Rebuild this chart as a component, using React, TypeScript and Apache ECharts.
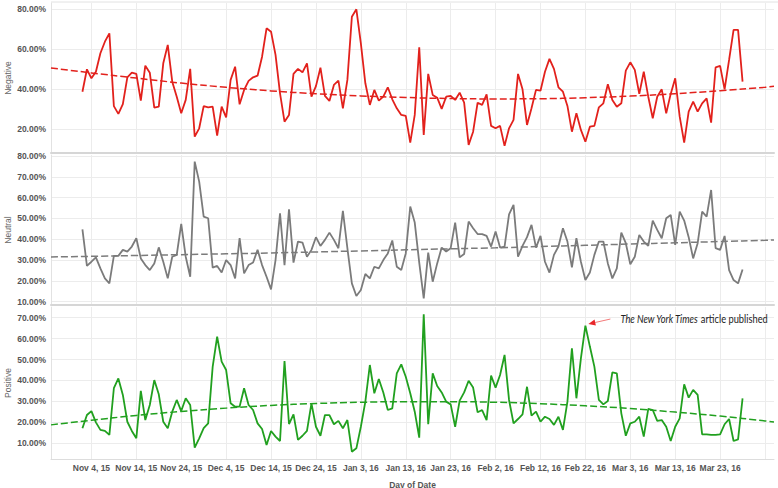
import React, { useEffect, useRef } from "react";
import * as echarts from "echarts";

// ---- categories: every day from Oct 26, 2015 to Apr 4, 2016 ----
const MONTHS = ["Jan", "Feb", "Mar", "Apr", "May", "Jun", "Jul", "Aug", "Sep", "Oct", "Nov", "Dec"];
const DAY_COUNT = 162;
const categories: string[] = [];
for (let i = 0; i < DAY_COUNT; i++) {
  const d = new Date(2015, 9, 26 + i);
  categories.push(`${MONTHS[d.getMonth()]} ${d.getDate()}, ${String(d.getFullYear()).slice(2)}`);
}
const DATA_START = "Nov 2, 15";
const ARTICLE_DATE = "Feb 22, 16";
const ANNOTATION = ["The New York Times", " article published"];

// ---- daily values (Nov 2, 2015 .. Mar 28, 2016), percent ----
const negativeValues = [
  38.8, 50.0, 45.5, 48.8, 58.0, 63.8, 68.0, 31.6, 27.7, 32.6,
  46.0, 48.3, 47.7, 34.3, 51.8, 48.3, 30.8, 31.3, 53.0, 62.2,
  43.8, 36.3, 28.0, 34.7, 50.2, 16.3, 20.5, 31.6, 31.0, 31.3,
  16.8, 31.3, 26.0, 44.7, 51.3, 32.5, 39.7, 44.2, 46.0, 46.8,
  56.3, 70.5, 68.8, 57.2, 38.0, 23.8, 27.2, 47.7, 50.2, 48.5,
  53.0, 36.3, 41.6, 50.8, 36.7, 34.2, 42.2, 44.3, 30.5, 44.7,
  76.3, 80.0, 63.0, 43.0, 32.2, 39.7, 34.3, 36.3, 41.0, 35.0,
  30.5, 27.2, 26.7, 13.3, 27.2, 61.0, 17.2, 47.7, 37.2, 35.8,
  30.2, 36.3, 36.7, 34.7, 38.3, 33.3, 12.2, 18.8, 33.3, 32.2,
  37.5, 21.7, 20.5, 21.7, 11.7, 20.5, 24.7, 47.7, 40.0, 22.2,
  30.5, 39.7, 39.3, 48.8, 55.2, 50.2, 41.0, 38.8, 31.7, 18.8,
  28.0, 19.7, 13.8, 21.3, 21.7, 31.0, 33.0, 42.5, 34.7, 31.3,
  33.0, 49.3, 53.5, 49.7, 37.7, 48.8, 36.3, 25.5, 36.3, 40.0,
  28.0, 37.7, 45.5, 26.3, 13.3, 28.8, 33.8, 28.8, 33.0, 35.5,
  23.3, 51.0, 51.7, 40.0, 54.7, 69.7, 69.7, 43.8,
];
const neutralValues = [
  44.8, 27.2, 29.2, 31.3, 26.0, 21.2, 18.8, 32.0, 32.0, 34.9,
  34.1, 36.5, 40.5, 30.8, 27.6, 25.2, 28.4, 36.1, 29.2, 21.2,
  31.6, 32.5, 47.4, 31.6, 22.0, 77.3, 67.7, 50.9, 50.1, 26.4,
  27.2, 24.0, 30.0, 27.6, 21.2, 40.5, 23.6, 27.6, 28.8, 34.9,
  27.6, 22.0, 15.9, 30.0, 52.5, 27.6, 54.4, 28.8, 38.9, 38.4,
  31.6, 34.9, 41.0, 36.8, 39.7, 43.2, 39.7, 35.7, 53.6, 35.7,
  18.8, 12.7, 15.6, 23.3, 21.2, 26.8, 26.0, 30.0, 33.2, 39.4,
  26.8, 25.2, 33.2, 55.7, 48.0, 28.8, 11.6, 33.6, 19.6, 28.4,
  36.0, 34.1, 35.7, 48.0, 31.3, 32.9, 48.5, 45.3, 42.5, 42.5,
  41.6, 36.5, 43.7, 36.0, 36.5, 52.0, 56.5, 31.6, 36.8, 41.0,
  46.9, 36.0, 41.6, 29.2, 24.0, 32.5, 36.5, 45.3, 38.9, 26.5,
  40.5, 29.2, 20.4, 24.0, 32.5, 38.9, 38.9, 28.4, 21.2, 26.0,
  43.2, 38.1, 28.0, 31.6, 42.1, 38.9, 36.8, 49.0, 44.5, 40.5,
  50.1, 51.7, 37.3, 53.3, 49.0, 41.0, 30.8, 38.1, 53.3, 50.9,
  63.7, 35.7, 34.9, 41.6, 25.2, 20.4, 18.8, 25.5,
];
const positiveValues = [
  17.2, 23.5, 25.4, 20.0, 16.4, 15.9, 14.0, 36.3, 41.0, 33.1,
  20.3, 15.9, 12.4, 35.0, 21.1, 28.3, 40.2, 33.4, 20.3, 17.2,
  25.1, 30.7, 25.4, 31.5, 28.3, 7.9, 12.4, 17.2, 19.5, 46.5,
  60.9, 49.0, 45.0, 29.1, 27.5, 27.5, 36.3, 28.3, 25.9, 19.5,
  16.8, 9.2, 15.9, 13.2, 11.1, 49.3, 19.2, 23.8, 11.6, 13.6,
  15.9, 29.1, 17.9, 13.6, 23.5, 23.5, 19.1, 20.7, 17.2, 21.1,
  6.0, 7.6, 17.9, 29.9, 47.4, 33.9, 40.7, 34.3, 25.9, 26.7,
  43.4, 47.7, 41.8, 33.9, 25.1, 12.7, 71.6, 19.1, 43.4, 37.4,
  34.3, 29.9, 28.6, 17.9, 30.4, 34.3, 39.9, 36.6, 24.8, 25.9,
  21.1, 42.3, 36.6, 42.6, 52.2, 30.7, 19.5, 21.6, 23.8, 37.0,
  23.2, 25.1, 20.3, 22.7, 21.6, 18.8, 22.7, 16.4, 29.9, 55.4,
  31.5, 50.6, 66.2, 56.2, 46.6, 30.7, 28.6, 30.2, 43.9, 43.4,
  24.3, 13.6, 19.5, 20.3, 22.7, 13.2, 26.4, 25.9, 20.7, 21.1,
  17.9, 11.1, 17.9, 21.9, 38.2, 31.8, 35.5, 33.1, 14.3, 14.3,
  14.0, 14.0, 14.3, 19.1, 21.6, 11.1, 11.9, 31.5,
];

// ---- trend lines, read at every 10-day gridline (Oct 26, Nov 4, ..., Apr 2, Apr 4) ----
const trendDates = [
  "Oct 26, 15", "Nov 4, 15", "Nov 14, 15", "Nov 24, 15", "Dec 4, 15", "Dec 14, 15",
  "Dec 24, 15", "Jan 3, 16", "Jan 13, 16", "Jan 23, 16", "Feb 2, 16", "Feb 12, 16",
  "Feb 22, 16", "Mar 3, 16", "Mar 13, 16", "Mar 23, 16", "Apr 2, 16", "Apr 4, 16",
];
const negativeTrend = [50.7, 48.2, 45.6, 43.1, 41.0, 39.2, 37.8, 36.7, 35.9, 35.4, 35.2, 35.3, 35.8, 36.6, 37.8, 39.3, 41.0, 41.5];
const neutralTrend = [31.5, 31.8, 32.2, 32.6, 33.0, 33.4, 33.9, 34.4, 34.9, 35.4, 35.9, 36.5, 37.1, 37.7, 38.3, 38.9, 39.5, 39.7];
const positiveTrend = [18.8, 21.0, 23.3, 25.2, 26.8, 28.1, 29.0, 29.6, 29.9, 29.9, 29.6, 28.9, 27.9, 26.6, 24.9, 23.0, 20.7, 20.2];

// ---- axis ticks ----
const negativeTicks = [20, 40, 60, 80];
const neutralTicks = [10, 20, 30, 40, 50, 60, 70, 80];
const positiveTicks = [10, 20, 30, 40, 50, 60, 70];
const xTickLabels = [
  "Nov 4, 15", "Nov 14, 15", "Nov 24, 15", "Dec 4, 15", "Dec 14, 15", "Dec 24, 15",
  "Jan 3, 16", "Jan 13, 16", "Jan 23, 16", "Feb 2, 16", "Feb 12, 16", "Feb 22, 16",
  "Mar 3, 16", "Mar 13, 16", "Mar 23, 16",
];
const xGridDates = [...xTickLabels, "Apr 2, 16"];

const RED = "#e2211c";
const GRAY = "#7b7b7b";
const GREEN = "#21a01f";
const FONT = "'Liberation Sans', Arial, sans-serif";

function padSeries(values: number[]) {
  const start = categories.indexOf(DATA_START);
  return categories.map((_, i) => {
    const k = i - start;
    return k >= 0 && k < values.length ? values[k] : null;
  });
}
function trendData(values: number[]) {
  return trendDates.map((d, k) => [categories.indexOf(d), values[k]]);
}

const grids = [
  { top: 3, height: 150, min: 8.15, max: 83.15, ticks: negativeTicks, name: "Negative", values: negativeValues, trend: negativeTrend, color: RED },
  { top: 155, height: 150, min: 8.4, max: 80.5, ticks: neutralTicks, name: "Neutral", values: neutralValues, trend: neutralTrend, color: GRAY },
  { top: 307, height: 152, min: 2.5, max: 75.1, ticks: positiveTicks, name: "Positive", values: positiveValues, trend: positiveTrend, color: GREEN },
];

export default function App() {
  const ref = useRef<HTMLDivElement>(null);
  useEffect(() => {
    if (!ref.current) return;
    const chart = echarts.init(ref.current, undefined, { renderer: "svg" });
    const gridIdx = new Set(xGridDates.map((d) => categories.indexOf(d)));
    const labelIdx = new Set(xTickLabels.map((d) => categories.indexOf(d)));
    const option: any = {
      animation: false,
      backgroundColor: "#ffffff",
      grid: grids.map((g) => ({
        left: 51,
        right: 4,
        top: g.top,
        height: g.height,
        containLabel: false,
        outerBoundsMode: "none",
      })),
      xAxis: grids.map((g, gi) => ({
        type: "category",
        gridIndex: gi,
        data: categories,
        boundaryGap: false,
        axisLine: { show: true, lineStyle: { color: gi < 2 ? "#d6d6d6" : "#dddddd", width: gi < 2 ? 2 : 1 } },
        axisTick: { show: false },
        axisLabel: {
          show: gi === 2,
          interval: (i: number) => labelIdx.has(i),
          color: "#555",
          fontFamily: FONT,
          fontWeight: "bold",
          fontSize: 8.5,
          margin: 4,
        },
        splitLine: {
          show: true,
          interval: (i: number) => gridIdx.has(i),
          lineStyle: { color: "#ececec", width: 1 },
        },
        name: gi === 2 ? "Day of Date" : "",
        nameLocation: "middle",
        nameGap: 21,
        nameMoveOverlap: false,
        nameTextStyle: { color: "#555", fontFamily: FONT, fontWeight: "bold", fontSize: 8.5 },
      })),
      yAxis: grids.map((g, gi) => ({
        type: "value",
        gridIndex: gi,
        min: g.min,
        max: g.max,
        axisLine: { show: true, lineStyle: { color: "#e2e2e2", width: 1 } },
        axisTick: { show: false, customValues: g.ticks },
        axisLabel: {
          customValues: g.ticks,
          formatter: (v: number) => v.toFixed(2) + "%",
          color: "#555",
          fontFamily: FONT,
          fontWeight: "bold",
          fontSize: 8.5,
          margin: 5,
        },
        splitLine: { show: true, lineStyle: { color: "#ececec", width: 1 } },
        name: g.name,
        nameLocation: "middle",
        nameGap: 39,
        nameMoveOverlap: false,
        nameTextStyle: { color: "#666", fontFamily: FONT, fontSize: 8.5 },
      })),
      series: grids.flatMap((g, gi) => [
        {
          type: "line",
          xAxisIndex: gi,
          yAxisIndex: gi,
          data: padSeries(g.values),
          showSymbol: false,
          connectNulls: false,
          lineStyle: { color: g.color, width: 1.8 },
          itemStyle: { color: g.color },
          silent: true,
          z: 3,
        },
        {
          type: "line",
          xAxisIndex: gi,
          yAxisIndex: gi,
          data: trendData(g.trend),
          smooth: true,
          showSymbol: false,
          lineStyle: { color: g.color, width: 1.5, type: [7, 3] },
          itemStyle: { color: g.color },
          silent: true,
          z: 4,
        },
      ]),
    };
    chart.setOption(option);

    const aIdx = categories.indexOf(ARTICLE_DATE);
    const aVal = positiveValues[aIdx - categories.indexOf(DATA_START)];
    const p = chart.convertToPixel({ xAxisIndex: 2, yAxisIndex: 2 }, [aIdx, aVal]) as number[];
    if (p) {
      const [px, py] = p;
      const tail = [px + 25, py - 6.6];
      const tip = [px + 3, py - 1.6];
      const dx = tip[0] - tail[0];
      const dy = tip[1] - tail[1];
      const len = Math.hypot(dx, dy);
      const ux = dx / len;
      const uy = dy / len;
      const bx = tip[0] - ux * 7;
      const by = tip[1] - uy * 7;
      chart.setOption({
        graphic: [
          {
            type: "line",
            shape: { x1: 51, y1: 2, x2: 778, y2: 2 },
            style: { stroke: "#e2e2e2", lineWidth: 1 },
            silent: true,
          },
          {
            type: "line",
            shape: { x1: tail[0], y1: tail[1], x2: bx, y2: by },
            style: { stroke: "#f47a7a", lineWidth: 1 },
            silent: true,
          },
          {
            type: "polygon",
            shape: {
              points: [
                [tip[0], tip[1]],
                [bx - uy * 3, by + ux * 3],
                [bx + uy * 3, by - ux * 3],
              ],
            },
            style: { fill: "#e8262a" },
            silent: true,
          },
          {
            type: "text",
            x: px + 35,
            y: py - 6.6,
            scaleX: 0.885,
            style: {
              text: `{i|${ANNOTATION[0]}}${ANNOTATION[1]}`,
              rich: { i: { fontStyle: "italic", fontFamily: "Lato, sans-serif", fontSize: 10.5, fill: "#222" } },
              fontFamily: "Lato, sans-serif",
              fontSize: 10.5,
              fill: "#222",
              verticalAlign: "middle",
              align: "left",
            },
            silent: true,
          },
        ],
      });
    }
    return () => chart.dispose();
  }, []);
  return <div ref={ref} style={{ position: "fixed", left: 0, top: 0, width: 778, height: 488 }} />;
}
